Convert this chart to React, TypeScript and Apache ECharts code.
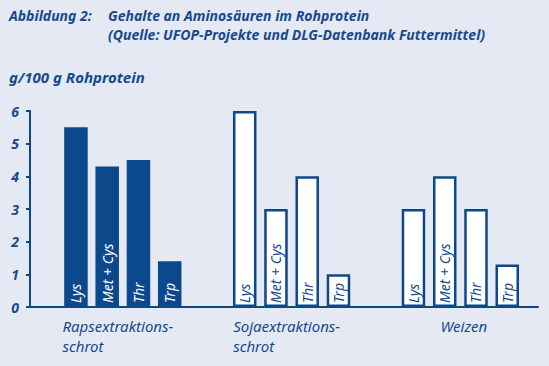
import React, { useEffect, useRef } from "react";
import * as echarts from "echarts";

const categories = ["Rapsextraktions-\nschrot", "Sojaextraktions-\nschrot", "Weizen"];
const categoryPositions = [1, 2, 3];
const aminoAcids = ["Lys", "Met + Cys", "Thr", "Trp"];
const lysValues = [5.5, 6.0, 3.0];
const metCysValues = [4.3, 3.0, 4.0];
const thrValues = [4.5, 4.0, 3.0];
const trpValues = [1.4, 1.0, 1.3];
const yTicks = [0, 1, 2, 3, 4, 5, 6];

const BLUE = "#0c488c";
const TEXT = "#154a8e";
const BG = "#e5e9f3";
const FONT = "'Noto Sans', 'Open Sans', sans-serif";

export default function App() {
  const ref = useRef<HTMLDivElement>(null);
  useEffect(() => {
    if (!ref.current) return;
    const chart = echarts.init(ref.current, undefined, { renderer: "svg" });
    const seriesValues = [lysValues, metCysValues, thrValues, trpValues];
    const series = aminoAcids.map((name, si) => ({
      type: "bar",
      name,
      barWidth: 23.5,
      barGap: "33%",
      data: seriesValues[si].map((v, ci) => ({
        value: [categoryPositions[ci], v],
        itemStyle: {
          color: ci === 0 ? BLUE : "#ffffff",
          borderColor: BLUE,
          borderWidth: 2.5,
        },
        label: { color: ci === 0 ? "#ffffff" : TEXT },
      })),
      label: {
        show: true,
        position: "insideBottom",
        rotate: 90,
        align: "left",
        verticalAlign: "middle",
        distance: 4,
        fontFamily: FONT,
        fontStyle: "italic",
        fontSize: 14,
        formatter: () => name,
      },
    }));
    const titleStyle = { fontFamily: FONT, fontSize: 14, fontWeight: "bold", fontStyle: "italic", color: TEXT, lineHeight: 19 };
    chart.setOption({
      animation: false,
      backgroundColor: BG,
      textStyle: { fontFamily: FONT },
      title: [
        { text: "Abbildung 2:", left: 9, top: 6, padding: 0, textStyle: titleStyle },
        {
          text: "Gehalte an Aminosäuren im Rohprotein\n(Quelle: UFOP-Projekte und DLG-Datenbank Futtermittel)",
          left: 108,
          top: 6,
          padding: 0,
          textStyle: titleStyle,
        },
        {
          text: "g/100 g Rohprotein",
          left: 9,
          top: 67,
          padding: 0,
          textStyle: { ...titleStyle, fontSize: 15 },
        },
      ],
      grid: { left: 30, right: 11, top: 111, bottom: 59 },
      xAxis: {
        type: "value",
        min: 0.45,
        max: 3.46,
        axisLine: { show: true, lineStyle: { color: BLUE, width: 2 } },
        axisTick: { show: false },
        splitLine: { show: false },
        axisLabel: {
          customValues: categoryPositions,
          margin: 9,
          formatter: (v: number) => {
            const idx = categoryPositions.indexOf(Math.round(v));
            const lines = categories[idx].split("\n");
            const style = idx === 2 ? "b" : "a";
            return lines.map((l) => `{${style}|${l}}`).join("\n");
          },
          rich: {
            a: { fontFamily: FONT, fontSize: 15, fontStyle: "italic", color: TEXT, align: "left", lineHeight: 20, padding: [0, 10, 0, 0] },
            b: { fontFamily: FONT, fontSize: 15, fontStyle: "italic", color: TEXT, align: "left", lineHeight: 20, padding: [0, 0, 0, 7] },
          },
        },
      },
      yAxis: {
        type: "value",
        min: 0,
        max: 6,
        interval: 1,
        axisLine: { show: true, lineStyle: { color: BLUE, width: 2 } },
        axisTick: { show: true, length: 4, lineStyle: { color: BLUE, width: 2 } },
        splitLine: { show: false },
        axisLabel: {
          margin: 11,
          fontFamily: FONT,
          fontSize: 14,
          fontWeight: "bold",
          fontStyle: "italic",
          color: TEXT,
          formatter: (v: number) => (yTicks.includes(v) ? String(v) : ""),
        },
      },
      series,
    });
    return () => chart.dispose();
  }, []);
  return <div ref={ref} style={{ position: "fixed", left: 0, top: 0, width: 549, height: 366 }} />;
}
